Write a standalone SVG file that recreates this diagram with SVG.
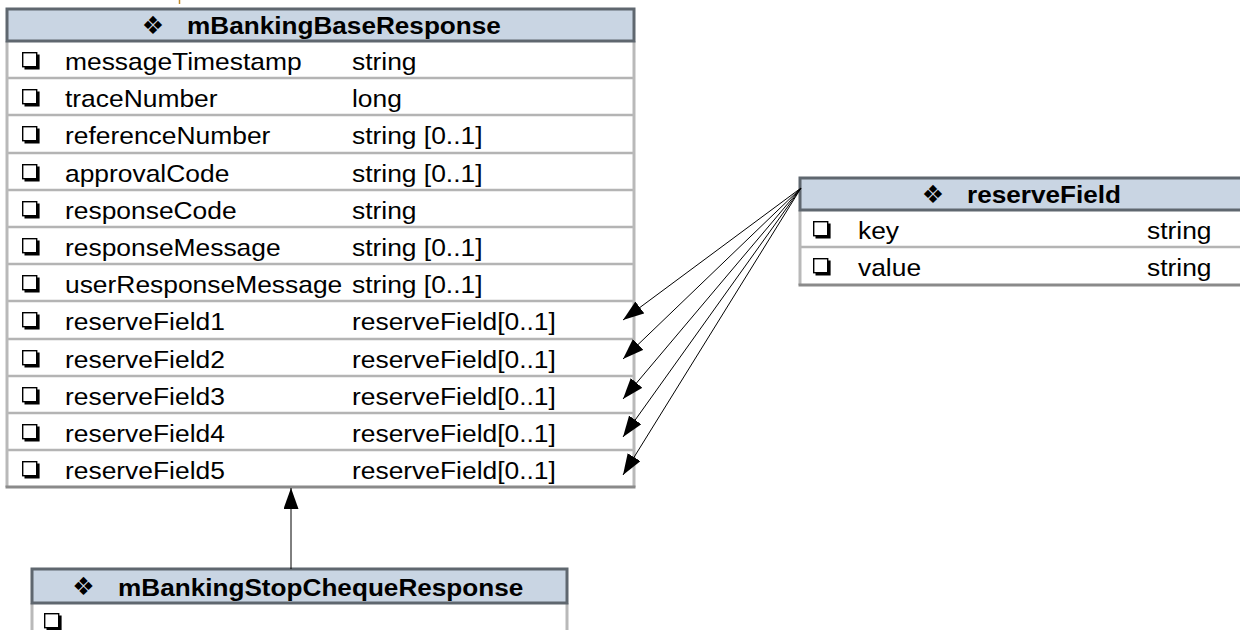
<svg xmlns="http://www.w3.org/2000/svg" width="1240" height="630" viewBox="0 0 1240 630">
  <style>
    .hdr { fill: #c9d5e3; stroke: #5f676f; stroke-width: 3; }
    .side { stroke: #b9b9b9; stroke-width: 3; fill: none; }
    .foot { stroke: #8a8a8a; stroke-width: 3; fill: none; }
    .sep { stroke: #b4b4b4; stroke-width: 2.5; fill: none; }
    .t { font-family: "Liberation Sans", Arial, sans-serif; font-size: 24px; fill: #000; }
    .h { font-family: "Liberation Sans", Arial, sans-serif; font-size: 24px; font-weight: bold; fill: #000; }
    .dm { font-family: "DejaVu Sans", sans-serif; font-size: 25px; fill: #000; }
    .link { stroke: #000; stroke-width: 1; fill: none; marker-end: url(#head); }
  </style>
  <defs>
    <marker id="head" markerUnits="userSpaceOnUse" markerWidth="24" markerHeight="18" refX="21" refY="7.5" orient="auto">
      <path d="M0 0 L21 7.5 L0 15 Z" fill="#000"/>
    </marker>
    <symbol id="box" viewBox="0 0 18 18" width="18" height="18" overflow="visible">
      <rect x="0.7" y="0.7" width="14" height="14" fill="#fff" stroke="#000" stroke-width="1.4"/>
      <path d="M2.5 16.1 H16.1 V2.5" stroke="#000" stroke-width="3" fill="none"/>
    </symbol>
  </defs>

  <rect width="1240" height="630" fill="#fff"/>
  <line x1="179.5" y1="0" x2="179.5" y2="4" stroke="#c08a2a" stroke-width="1.5"/>

  <!-- base response class -->
  <g id="mBankingBaseResponse">
    <rect x="7" y="41" width="627" height="446" fill="#fff"/>
    <g class="sep">
      <line x1="7" y1="78" x2="634" y2="78"/>
      <line x1="7" y1="115" x2="634" y2="115"/>
      <line x1="7" y1="153" x2="634" y2="153"/>
      <line x1="7" y1="190" x2="634" y2="190"/>
      <line x1="7" y1="227" x2="634" y2="227"/>
      <line x1="7" y1="264" x2="634" y2="264"/>
      <line x1="7" y1="301" x2="634" y2="301"/>
      <line x1="7" y1="339" x2="634" y2="339"/>
      <line x1="7" y1="376" x2="634" y2="376"/>
      <line x1="7" y1="413" x2="634" y2="413"/>
      <line x1="7" y1="450" x2="634" y2="450"/>
    </g>
    <path class="side" d="M7 41 V487 M634 41 V487"/>
    <line class="foot" x1="5.5" y1="487" x2="635.5" y2="487"/>
    <rect class="hdr" x="7" y="9" width="627" height="32"/>
    <text class="dm" x="153" y="34" text-anchor="middle">❖</text>
    <text class="h" transform="translate(187 34) scale(1.09 1)">mBankingBaseResponse</text>

    <use href="#box" x="22" y="52"/>
    <use href="#box" x="22" y="89"/>
    <use href="#box" x="22" y="126"/>
    <use href="#box" x="22" y="164"/>
    <use href="#box" x="22" y="201"/>
    <use href="#box" x="22" y="238"/>
    <use href="#box" x="22" y="275"/>
    <use href="#box" x="22" y="312"/>
    <use href="#box" x="22" y="350"/>
    <use href="#box" x="22" y="387"/>
    <use href="#box" x="22" y="424"/>
    <use href="#box" x="22" y="461"/>

    <text class="t" transform="translate(65 70) scale(1.1 1)">messageTimestamp</text>
    <text class="t" transform="translate(352 70) scale(1.1 1)">string</text>
    <text class="t" transform="translate(65 107) scale(1.1 1)">traceNumber</text>
    <text class="t" transform="translate(352 107) scale(1.1 1)">long</text>
    <text class="t" transform="translate(65 144) scale(1.1 1)">referenceNumber</text>
    <text class="t" transform="translate(352 144) scale(1.1 1)">string [0..1]</text>
    <text class="t" transform="translate(65 182) scale(1.1 1)">approvalCode</text>
    <text class="t" transform="translate(352 182) scale(1.1 1)">string [0..1]</text>
    <text class="t" transform="translate(65 219) scale(1.1 1)">responseCode</text>
    <text class="t" transform="translate(352 219) scale(1.1 1)">string</text>
    <text class="t" transform="translate(65 256) scale(1.1 1)">responseMessage</text>
    <text class="t" transform="translate(352 256) scale(1.1 1)">string [0..1]</text>
    <text class="t" transform="translate(65 293) scale(1.1 1)">userResponseMessage</text>
    <text class="t" transform="translate(352 293) scale(1.1 1)">string [0..1]</text>
    <text class="t" transform="translate(65 330) scale(1.1 1)">reserveField1</text>
    <text class="t" transform="translate(352 330) scale(1.1 1)">reserveField[0..1]</text>
    <text class="t" transform="translate(65 368) scale(1.1 1)">reserveField2</text>
    <text class="t" transform="translate(352 368) scale(1.1 1)">reserveField[0..1]</text>
    <text class="t" transform="translate(65 405) scale(1.1 1)">reserveField3</text>
    <text class="t" transform="translate(352 405) scale(1.1 1)">reserveField[0..1]</text>
    <text class="t" transform="translate(65 442) scale(1.1 1)">reserveField4</text>
    <text class="t" transform="translate(352 442) scale(1.1 1)">reserveField[0..1]</text>
    <text class="t" transform="translate(65 479) scale(1.1 1)">reserveField5</text>
    <text class="t" transform="translate(352 479) scale(1.1 1)">reserveField[0..1]</text>
  </g>

  <!-- key/value pair class -->
  <g id="reserveField">
    <rect x="800" y="210" width="444" height="75" fill="#fff"/>
    <line class="sep" x1="800" y1="247" x2="1244" y2="247"/>
    <path class="side" d="M800 210 V285"/>
    <line class="foot" x1="798.5" y1="285" x2="1244" y2="285"/>
    <rect class="hdr" x="800" y="178" width="446" height="32"/>
    <text class="dm" x="933" y="203" text-anchor="middle">❖</text>
    <text class="h" transform="translate(967 203) scale(1.09 1)">reserveField</text>
    <use href="#box" x="813" y="221"/>
    <use href="#box" x="813" y="258"/>
    <text class="t" transform="translate(858 239) scale(1.1 1)">key</text>
    <text class="t" transform="translate(1147 239) scale(1.1 1)">string</text>
    <text class="t" transform="translate(858 276) scale(1.1 1)">value</text>
    <text class="t" transform="translate(1147 276) scale(1.1 1)">string</text>
  </g>

  <!-- derived response class -->
  <g id="mBankingStopChequeResponse">
    <rect x="32" y="603" width="535" height="30" fill="#fff"/>
    <path class="side" d="M32 603 V632 M567 603 V632"/>
    <rect class="hdr" x="32" y="569" width="535" height="34"/>
    <text class="dm" x="83.5" y="595" text-anchor="middle">❖</text>
    <text class="h" transform="translate(118 596) scale(1.09 1)">mBankingStopChequeResponse</text>
    <use href="#box" x="44" y="613"/>
  </g>

  <g id="connectors">
    <line class="link" x1="291" y1="569" x2="291" y2="488"/>
    <line class="link" x1="801" y1="188" x2="623" y2="320"/>
    <line class="link" x1="801" y1="188" x2="623" y2="359"/>
    <line class="link" x1="801" y1="188" x2="623" y2="399"/>
    <line class="link" x1="801" y1="188" x2="623" y2="437"/>
    <line class="link" x1="801" y1="188" x2="623" y2="475"/>
  </g>
</svg>
